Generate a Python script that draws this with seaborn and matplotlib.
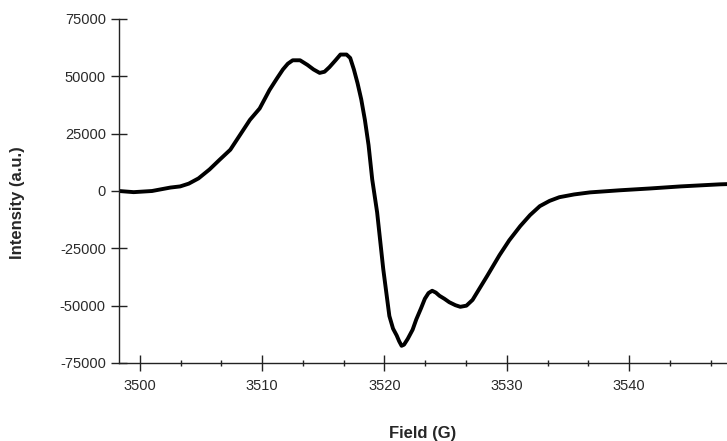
import matplotlib
matplotlib.use("Agg")
import matplotlib.pyplot as plt
from matplotlib.ticker import MultipleLocator
import seaborn as sns
import pandas as pd

# EPR spectrum: magnetic field (G) vs. first-derivative intensity (a.u.)
field = [3498.3, 3499.5, 3501.0, 3502.5, 3503.3, 3504.0, 3504.8, 3505.7,
         3506.5, 3507.4, 3508.2, 3509.0, 3509.8, 3510.6, 3511.2, 3511.7,
         3512.1, 3512.5, 3513.1, 3513.7, 3514.2, 3514.7, 3515.1, 3515.5,
         3516.0, 3516.4, 3516.9, 3517.2, 3517.5, 3517.8, 3518.1, 3518.4,
         3518.7, 3519.0, 3519.4, 3519.9, 3520.4, 3520.7, 3521.0, 3521.2,
         3521.4, 3521.6, 3521.9, 3522.3, 3522.6, 3523.0, 3523.3, 3523.6,
         3523.9, 3524.2, 3524.5, 3524.9, 3525.3, 3525.8, 3526.2, 3526.7,
         3527.2, 3527.6, 3528.0, 3528.4, 3528.9, 3529.4, 3530.2, 3531.1,
         3531.9, 3532.7, 3533.5, 3534.3, 3535.5, 3536.8, 3539.2, 3541.7,
         3544.2, 3547.4, 3548.0]
intensity = [0, -500, 0, 1500, 2000, 3200, 5500, 9400,
             13500, 18000, 24500, 31000, 36000, 44000, 49000, 53000,
             55500, 57000, 57000, 55000, 53000, 51500, 52000, 54000,
             57000, 59500, 59500, 58000, 53000, 47000, 40000, 31000,
             20000, 5000, -9300, -34000, -54500, -60000, -63000, -65500,
             -67500, -67000, -64500, -60500, -56000, -51000, -47000, -44500,
             -43500, -44300, -45700, -47000, -48500, -49800, -50500, -50000,
             -47500, -44000, -40500, -37000, -32500, -28000, -21500, -15300,
             -10500, -6600, -4300, -2700, -1500, -600, 300, 1100,
             2000, 2900, 3000]

y_ticks = [-75000, -50000, -25000, 0, 25000, 50000, 75000]
x_ticks = [3500, 3510, 3520, 3530, 3540]

sns.set_style("ticks")
plt.rcParams["font.family"] = ["Liberation Sans", "DejaVu Sans"]
plt.rcParams["axes.unicode_minus"] = False

df = pd.DataFrame({"Field (G)": field, "Intensity (a.u.)": intensity})

fig = plt.figure(figsize=(7.27, 4.41), dpi=100)
ax = fig.add_axes([119 / 727, 1 - 363 / 441, 1 - 119 / 727, (363 - 19) / 441])

sns.lineplot(data=df, x="Field (G)", y="Intensity (a.u.)", ax=ax,
             color="black", linewidth=2.8, sort=False, estimator=None,
             solid_joinstyle="round", solid_capstyle="round")

ax.set_xlim(3498.3, 3548.0)
ax.set_ylim(-75000, 75000)
ax.set_xticks(x_ticks)
ax.set_yticks(y_ticks)
ax.xaxis.set_minor_locator(MultipleLocator(10 / 3))

ax.tick_params(axis="both", which="major", direction="inout", length=11,
               width=1.0, color="#222222", labelsize=10.5, labelcolor="#2a2a2a")
ax.tick_params(axis="x", which="minor", direction="inout", length=5,
               width=1.0, color="#222222")
ax.tick_params(axis="x", pad=6)
ax.tick_params(axis="y", pad=4)

for side in ("top", "right"):
    ax.spines[side].set_visible(False)
for side in ("left", "bottom"):
    ax.spines[side].set_color("#222222")
    ax.spines[side].set_linewidth(1.0)

ax.set_xlabel("Field (G)", fontsize=12, fontweight="bold", labelpad=24)
ax.set_ylabel("Intensity (a.u.)", fontsize=12, fontweight="bold")
ax.yaxis.set_label_coords(-0.155, 0.465)

fig.savefig("out.png", dpi=100)
